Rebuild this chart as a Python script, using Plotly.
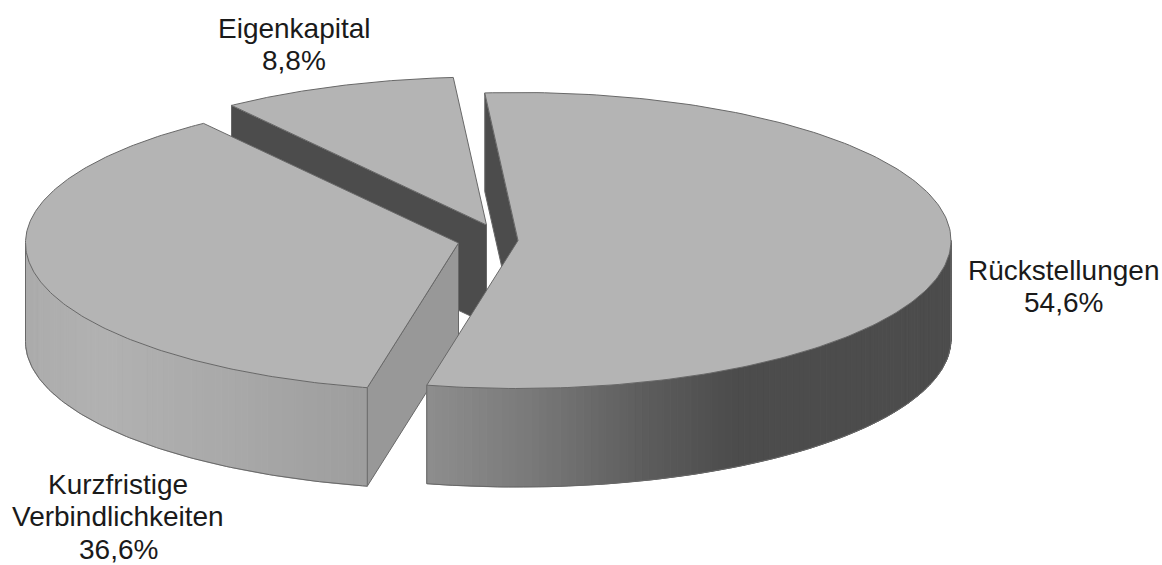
import numpy as np
import plotly.graph_objects as go

# Data
labels = ["Rückstellungen", "Kurzfristige<br>Verbindlichkeiten", "Eigenkapital"]
shares = [54.6, 36.6, 8.8]

# Projection and styling of the tilted, exploded disc (all in screen pixels)
W, H = 1162, 565
CX, CY = 488.0, 242.0
RX, RY = 433.0, 148.0
DEPTH = 98.5
START_ANGLE = -4.4
EXPLODE = {"Rückstellungen": (30.0, -1.5),
           "Kurzfristige<br>Verbindlichkeiten": (-29.5, 1.0),
           "Eigenkapital": (-1.5, -17.0)}
TOP = "#b4b4b4"
EDGE = "#686868"
CUT = {"Rückstellungen": "#4c4c4c",
       "Kurzfristige<br>Verbindlichkeiten": "#989898",
       "Eigenkapital": "#4c4c4c"}
GRAD_X = [25, 100, 220, 367, 427, 530, 640, 730, 951]
GRAD_V = [172, 178, 170, 158, 142, 122, 94, 77, 76]
LABEL_POS = {"Rückstellungen": (1063, 270),
             "Kurzfristige<br>Verbindlichkeiten": (118, 484),
             "Eigenkapital": (294, 28)}
LINE_PITCH = 32.75
FONT_SIZE = 28

fig = go.Figure()


def poly(xs, ys, fill, line=None, width=1):
    fig.add_trace(go.Scatter(
        x=list(xs), y=list(ys), mode="lines", fill="toself", fillcolor=fill,
        line=dict(color=line or fill, width=width), hoverinfo="skip", showlegend=False))


# Angles of each slice come from the values
edges = START_ANGLE + np.cumsum([0] + shares) * 3.6
spans = {lab: (edges[i], edges[i + 1]) for i, lab in enumerate(labels)}


def rim(a, ox, oy):
    t = np.radians(a)
    return CX + ox + RX * np.sin(t), CY + oy - RY * np.cos(t)


for lab in reversed(labels):  # back-most slice first
    a0, a1 = spans[lab]
    ox, oy = EXPLODE[lab]
    ax, ay = CX + ox, CY + oy

    # radial cut walls that face the viewer
    for a, vis in ((a0, np.sin(np.radians(a0)) < 0), (a1, np.sin(np.radians(a1)) > 0)):
        if vis:
            x, y = rim(a, ox, oy)
            poly([ax, x, x, ax, ax], [ay, y, y + DEPTH, ay + DEPTH, ay], CUT[lab], EDGE)

    # outer wall, shaded strip by strip
    lo, hi = max(a0, 90), min(a1, 270)
    if hi > lo:
        steps = np.linspace(lo, hi, int((hi - lo) / 1.0) + 2)
        for s0, s1 in zip(steps[:-1], steps[1:]):
            x0, y0 = rim(s0, ox, oy)
            x1, y1 = rim(s1, ox, oy)
            v = int(np.interp((x0 + x1) / 2, GRAD_X, GRAD_V))
            c = f"rgb({v},{v},{v})"
            poly([x0, x1, x1, x0, x0], [y0, y1, y1 + DEPTH, y0 + DEPTH, y0], c)
        arc = np.linspace(lo, hi, 120)
        ex, ey = rim(arc, ox, oy)
        fig.add_trace(go.Scatter(
            x=[ex[0], ex[0]] + list(ex) + [ex[-1], ex[-1]],
            y=[ey[0], ey[0] + DEPTH] + list(ey + DEPTH) + [ey[-1] + DEPTH, ey[-1]],
            mode="lines", line=dict(color=EDGE, width=1), hoverinfo="skip", showlegend=False))

    # top face
    arc = np.linspace(a0, a1, 200)
    tx, ty = rim(arc, ox, oy)
    poly([ax] + list(tx) + [ax], [ay] + list(ty) + [ay], TOP, EDGE)

# Labels
annotations = []
for lab, val in zip(labels, shares):
    lx, ly = LABEL_POS[lab]
    lines = lab.split("<br>") + [f"{val:.1f}%".replace(".", ",")]
    for i, text in enumerate(lines):
        annotations.append(dict(
            x=lx, y=ly + i * LINE_PITCH, xref="x", yref="y", text=text, showarrow=False,
            xanchor="center", yanchor="middle",
            font=dict(family="Liberation Sans, Arial, sans-serif", size=FONT_SIZE, color="#1a1a1a")))

fig.update_layout(
    width=W, height=H, margin=dict(l=0, r=0, t=0, b=0),
    paper_bgcolor="white", plot_bgcolor="white", showlegend=False,
    xaxis=dict(range=[0, W], visible=False, fixedrange=True),
    yaxis=dict(range=[H, 0], visible=False, fixedrange=True),
    annotations=annotations)

fig.write_html("out.html", config={"displayModeBar": False},
               post_script="document.body.style.margin='0';")
